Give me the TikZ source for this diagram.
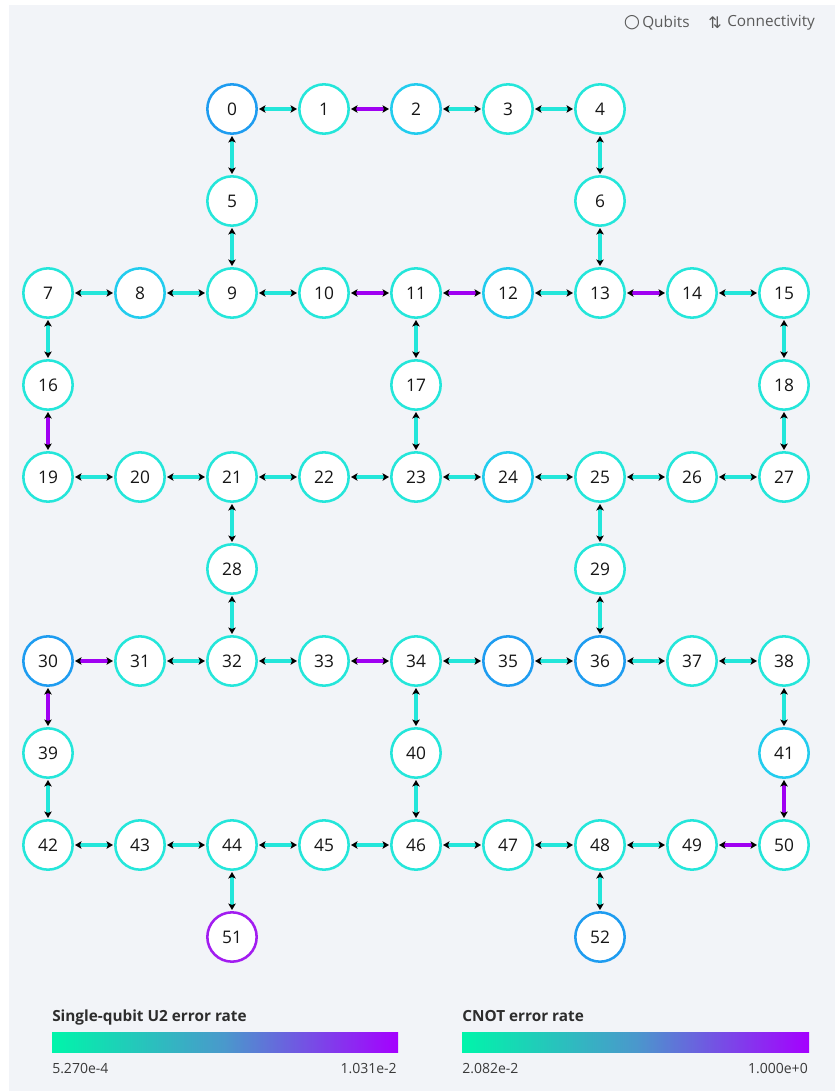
\documentclass[tikz,border=0pt]{standalone}
\usepackage{fontspec}
\setmainfont{Open Sans}
\newfontfamily\symfont{DejaVu Sans}
\usetikzlibrary{arrows.meta}
\definecolor{qmPanel}{HTML}{F2F4F8}
\definecolor{qmTeal}{HTML}{24E6DA}
\definecolor{qmCyan}{HTML}{22CCEE}
\definecolor{qmBlue}{HTML}{1E9CF0}
\definecolor{qmPurple}{HTML}{A000F2}
\definecolor{qmNode}{HTML}{A21CF0}
\definecolor{qmInk}{HTML}{161616}
\definecolor{qmMuted}{HTML}{5A5A5A}
\definecolor{qmLow}{HTML}{00F5AA}
\definecolor{qmMid}{HTML}{4A98CC}
\definecolor{qmHigh}{HTML}{A500FF}

\begin{document}
\begin{tikzpicture}[
    x=0.75pt, y=-0.75pt, >={Stealth[length=4.8pt,width=5.5pt,inset=1pt,color=black]},
    qubit/.style={circle, draw=qmTeal, line width=1.9pt, fill=white, minimum size=37pt, inner sep=0pt, font=\fontsize{13}{15}\selectfont, text=qmInk},
    link/.style={<->, draw=qmTeal, line width=2.5pt, shorten <=0.8pt, shorten >=0.8pt},
    weak/.style={link, draw=qmPurple},
    lab/.style={font=\fontsize{10.5}{12}\selectfont, text=qmInk!85, inner sep=0pt},
    key/.style={lab, text=qmMuted, font=\fontsize{11.5}{13}\selectfont, anchor=west},
    head/.style={font=\bfseries\fontsize{11.5}{13}\selectfont, text=qmInk!90, inner sep=0pt, anchor=base west},
  ]
  \useasboundingbox (0,0) rectangle (835,1091);
  \fill[white] (0,0) rectangle (835,1091);
  \fill[qmPanel] (9,5) rectangle (835,1091);
  % top key
  \node[lab, text=qmMuted, font=\symfont\fontsize{14}{15}\selectfont] (kq) at (632,23) {○};
  \node[key] (kqt) at (642,23) {Qubits};
  \node[lab, text=qmMuted, font=\symfont\fontsize{12}{13}\selectfont] (kc) at (715,23) {⇅};
  \node[key] (kct) at (727,23) {Connectivity};
  % qubits
  \node[qubit, draw=qmBlue] (q0) at (232,109) {0};
  \node[qubit] (q1) at (324,109) {1};
  \node[qubit, draw=qmCyan] (q2) at (416,109) {2};
  \node[qubit] (q3) at (508,109) {3};
  \node[qubit] (q4) at (600,109) {4};
  \node[qubit] (q5) at (232,201) {5};
  \node[qubit] (q6) at (600,201) {6};
  \node[qubit] (q7) at (48,293) {7};
  \node[qubit, draw=qmCyan] (q8) at (140,293) {8};
  \node[qubit] (q9) at (232,293) {9};
  \node[qubit] (q10) at (324,293) {10};
  \node[qubit] (q11) at (416,293) {11};
  \node[qubit, draw=qmCyan] (q12) at (508,293) {12};
  \node[qubit] (q13) at (600,293) {13};
  \node[qubit] (q14) at (692,293) {14};
  \node[qubit] (q15) at (784,293) {15};
  \node[qubit] (q16) at (48,385) {16};
  \node[qubit] (q17) at (416,385) {17};
  \node[qubit] (q18) at (784,385) {18};
  \node[qubit] (q19) at (48,477) {19};
  \node[qubit] (q20) at (140,477) {20};
  \node[qubit] (q21) at (232,477) {21};
  \node[qubit] (q22) at (324,477) {22};
  \node[qubit] (q23) at (416,477) {23};
  \node[qubit, draw=qmCyan] (q24) at (508,477) {24};
  \node[qubit] (q25) at (600,477) {25};
  \node[qubit] (q26) at (692,477) {26};
  \node[qubit] (q27) at (784,477) {27};
  \node[qubit] (q28) at (232,569) {28};
  \node[qubit] (q29) at (600,569) {29};
  \node[qubit, draw=qmBlue] (q30) at (48,661) {30};
  \node[qubit] (q31) at (140,661) {31};
  \node[qubit] (q32) at (232,661) {32};
  \node[qubit] (q33) at (324,661) {33};
  \node[qubit] (q34) at (416,661) {34};
  \node[qubit, draw=qmBlue] (q35) at (508,661) {35};
  \node[qubit, draw=qmBlue] (q36) at (600,661) {36};
  \node[qubit] (q37) at (692,661) {37};
  \node[qubit] (q38) at (784,661) {38};
  \node[qubit] (q39) at (48,753) {39};
  \node[qubit] (q40) at (416,753) {40};
  \node[qubit, draw=qmCyan] (q41) at (784,753) {41};
  \node[qubit] (q42) at (48,845) {42};
  \node[qubit] (q43) at (140,845) {43};
  \node[qubit] (q44) at (232,845) {44};
  \node[qubit] (q45) at (324,845) {45};
  \node[qubit] (q46) at (416,845) {46};
  \node[qubit] (q47) at (508,845) {47};
  \node[qubit] (q48) at (600,845) {48};
  \node[qubit] (q49) at (692,845) {49};
  \node[qubit] (q50) at (784,845) {50};
  \node[qubit, draw=qmNode] (q51) at (232,937) {51};
  \node[qubit, draw=qmBlue] (q52) at (600,937) {52};
  % couplers
  \draw[link] (q0) -- (q1);
  \draw[weak] (q1) -- (q2);
  \draw[link] (q2) -- (q3);
  \draw[link] (q3) -- (q4);
  \draw[link] (q0) -- (q5);
  \draw[link] (q5) -- (q9);
  \draw[link] (q4) -- (q6);
  \draw[link] (q6) -- (q13);
  \draw[link] (q7) -- (q8);
  \draw[link] (q8) -- (q9);
  \draw[link] (q9) -- (q10);
  \draw[weak] (q10) -- (q11);
  \draw[weak] (q11) -- (q12);
  \draw[link] (q12) -- (q13);
  \draw[weak] (q13) -- (q14);
  \draw[link] (q14) -- (q15);
  \draw[link] (q7) -- (q16);
  \draw[weak] (q16) -- (q19);
  \draw[link] (q11) -- (q17);
  \draw[link] (q17) -- (q23);
  \draw[link] (q15) -- (q18);
  \draw[link] (q18) -- (q27);
  \draw[link] (q19) -- (q20);
  \draw[link] (q20) -- (q21);
  \draw[link] (q21) -- (q22);
  \draw[link] (q22) -- (q23);
  \draw[link] (q23) -- (q24);
  \draw[link] (q24) -- (q25);
  \draw[link] (q25) -- (q26);
  \draw[link] (q26) -- (q27);
  \draw[link] (q21) -- (q28);
  \draw[link] (q28) -- (q32);
  \draw[link] (q25) -- (q29);
  \draw[link] (q29) -- (q36);
  \draw[weak] (q30) -- (q31);
  \draw[link] (q31) -- (q32);
  \draw[link] (q32) -- (q33);
  \draw[weak] (q33) -- (q34);
  \draw[link] (q34) -- (q35);
  \draw[link] (q35) -- (q36);
  \draw[link] (q36) -- (q37);
  \draw[link] (q37) -- (q38);
  \draw[weak] (q30) -- (q39);
  \draw[link] (q39) -- (q42);
  \draw[link] (q34) -- (q40);
  \draw[link] (q40) -- (q46);
  \draw[link] (q38) -- (q41);
  \draw[weak] (q41) -- (q50);
  \draw[link] (q42) -- (q43);
  \draw[link] (q43) -- (q44);
  \draw[link] (q44) -- (q45);
  \draw[link] (q45) -- (q46);
  \draw[link] (q46) -- (q47);
  \draw[link] (q47) -- (q48);
  \draw[link] (q48) -- (q49);
  \draw[weak] (q49) -- (q50);
  \draw[link] (q44) -- (q51);
  \draw[link] (q48) -- (q52);
  % colour scales
  \node[head] (ht1) at (52,1021) {Single-qubit U2 error rate};
  \shade[left color=qmLow, right color=qmHigh, middle color=qmMid] (52,1032) rectangle (398,1052);
  \node[lab, anchor=base west] (lo1) at (52,1073) {5.270e-4};
  \node[lab, anchor=base east] (hi1) at (397,1073) {1.031e-2};
  \node[head] (ht2) at (462,1021) {CNOT error rate};
  \shade[left color=qmLow, right color=qmHigh, middle color=qmMid] (462,1032) rectangle (809,1052);
  \node[lab, anchor=base west] (lo2) at (462,1073) {2.082e-2};
  \node[lab, anchor=base east] (hi2) at (808,1073) {1.000e+0};
\end{tikzpicture}
\end{document}
